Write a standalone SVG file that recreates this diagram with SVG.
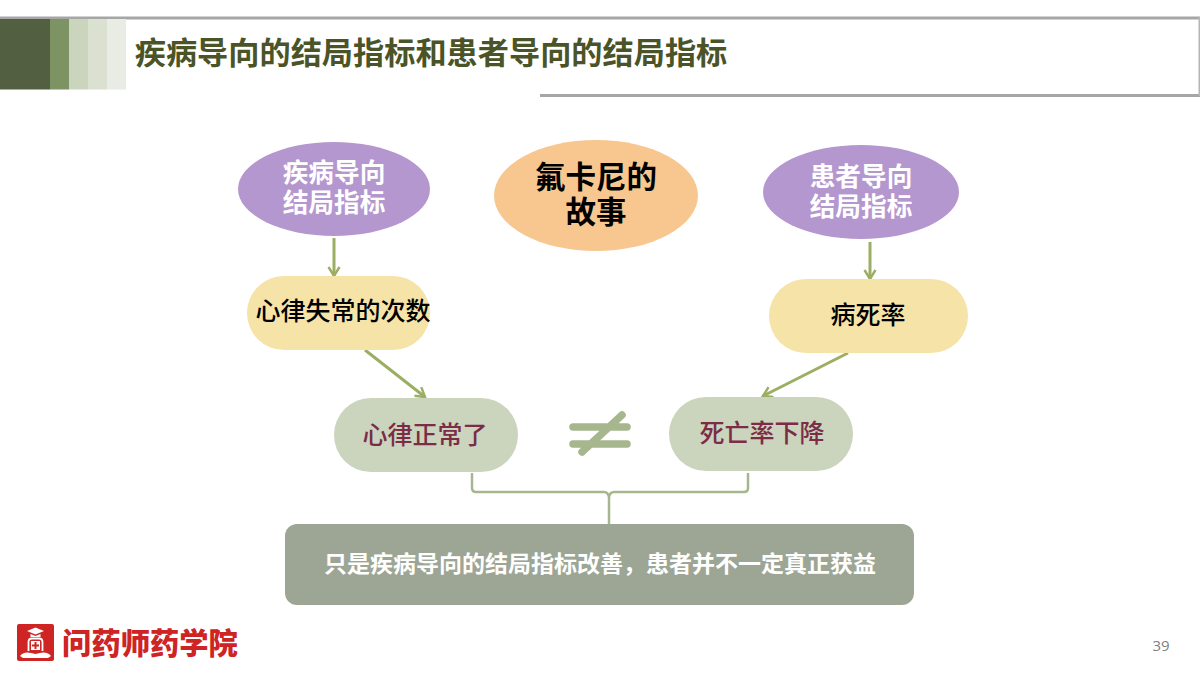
<svg xmlns="http://www.w3.org/2000/svg" width="1200" height="675" viewBox="0 0 1200 675">
<defs>
<marker id="arr" markerUnits="userSpaceOnUse" markerWidth="16" markerHeight="16" refX="13" refY="8" orient="auto"><path d="M4 2.500L13 8L4 13.500" fill="none" stroke="#9BAE62" stroke-width="2.400"/></marker>
</defs>
<style>
text{font-family:"Noto Sans CJK SC","Liberation Sans",sans-serif;text-anchor:middle}
.pur{fill:#B597CF}.yel{fill:#F5E3A8}.grn{fill:#CBD4BC}
.w{font-size:25.700px;fill:#fff;font-weight:700}
.k{font-size:25px;fill:#000;font-weight:500}
.m{font-size:25px;fill:#7B2C46;font-weight:500}
.c{fill:none;stroke:#9BAE62;stroke-width:3}
.b{fill:none;stroke:#A6B78E;stroke-width:2.500}
.ne{stroke:#A6B78E;stroke-width:7.500;stroke-linecap:round}
</style>
<g id="header">
<rect x="0" y="16.500" width="1200" height="3" fill="#A6A6A6"/>
<rect x="540" y="94" width="660" height="3" fill="#A6A6A6"/>
<rect x="1198.500" y="17" width="1.500" height="79" fill="#B5B5B5"/>
<rect x="0" y="19" width="50" height="70.500" fill="#535F41"/>
<rect x="50" y="19" width="19" height="70.500" fill="#7E9364"/>
<rect x="69" y="19" width="19" height="70.500" fill="#CBD4BC"/>
<rect x="88" y="19" width="19" height="70.500" fill="#DBE1D1"/>
<rect x="107" y="19" width="19" height="70.500" fill="#E9ECE4"/>
<text x="431" y="64" style="font-size:31.200px;font-weight:700;fill:#4A5427">疾病导向的结局指标和患者导向的结局指标</text>
</g>
<g id="connectors">
<path class="c" d="M334 238V276" marker-end="url(#arr)"/>
<path class="c" d="M870 242V279" marker-end="url(#arr)"/>
<path class="c" d="M365 350L425 397" marker-end="url(#arr)"/>
<path class="c" d="M848 353L763 396" marker-end="url(#arr)"/>
<path class="b" d="M472 473V488Q472 492 476 492H604Q608 492 609 497Q610 492 614 492H744Q748 492 748 488V473M609 497V524"/>
</g>
<g id="n1"><ellipse class="pur" cx="334" cy="189" rx="96" ry="47"/><text class="w"><tspan x="334" y="182">疾病导向</tspan><tspan x="334" y="212">结局指标</tspan></text></g>
<g id="n2"><ellipse cx="596" cy="195.500" rx="102" ry="55.500" fill="#F7C78F"/><text style="font-size:30.500px;font-weight:700"><tspan x="596" y="188">氟卡尼的</tspan><tspan x="596" y="223">故事</tspan></text></g>
<g id="n3"><ellipse class="pur" cx="861" cy="192" rx="98" ry="47"/><text class="w"><tspan x="861" y="186">患者导向</tspan><tspan x="861" y="216">结局指标</tspan></text></g>
<g id="n4"><rect class="yel" x="247" y="276" width="183" height="74" rx="37"/><text class="k" x="343" y="320">心律失常的次数</text></g>
<g id="n5"><rect class="yel" x="769" y="279" width="199" height="74" rx="37"/><text class="k" x="868" y="324">病死率</text></g>
<g id="n6"><rect class="grn" x="334" y="398" width="184" height="74" rx="37"/><text class="m" x="425" y="444">心律正常了</text></g>
<g id="n7"><rect class="grn" x="669" y="397" width="184" height="74" rx="37"/><text class="m" x="762" y="442">死亡率下降</text></g>
<g id="ne"><path class="ne" d="M573 427H627M573 444H627M582 452L622 415"/></g>
<g id="n8"><rect x="285" y="524" width="629" height="81" rx="12" fill="#9DA694"/><text x="600" y="572" style="font-size:23px;font-weight:700;fill:#fff">只是疾病导向的结局指标改善，患者并不一定真正获益</text></g>
<g id="logo">
<rect x="17" y="624" width="37" height="37" rx="2" fill="#CE2424"/>
<path d="M27 631L35.500 627.500L44 631L35.500 634.500Z" fill="#fff"/>
<path d="M30.500 634V637H40.500V634L35.500 636Z" fill="#fff"/>
<path d="M28.500 651V642Q28.500 638.500 32 638.500H39Q42.500 638.500 42.500 642V651" fill="none" stroke="#fff" stroke-width="1.800"/>
<rect x="31" y="641" width="9" height="9" fill="#fff"/>
<path d="M34.500 642H36.500V644.500H39V646.500H36.500V649H34.500V646.500H32V644.500H34.500Z" fill="#CE2424"/>
<path d="M20 656Q24 650 35.500 654Q47 650 51 656L48 658H23Z" fill="#fff"/>
<text x="150" y="654" style="font-size:29.300px;font-weight:900;fill:#CE2424">问药师药学院</text>
</g>
<text x="1161" y="651" style="font-size:15px;fill:#7F7F7F;font-family:'Open Sans','Liberation Sans',sans-serif">39</text>
</svg>
